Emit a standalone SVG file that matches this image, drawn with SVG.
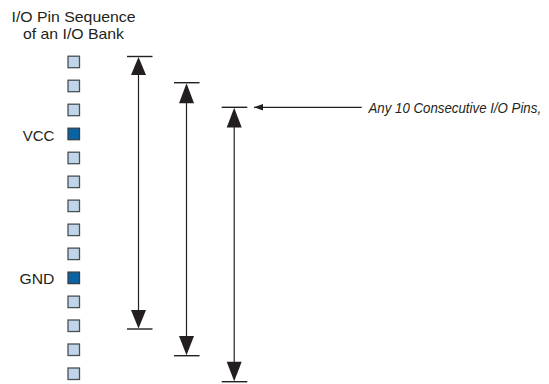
<svg xmlns="http://www.w3.org/2000/svg" width="549" height="384" viewBox="0 0 549 384">
<defs>
<style>
.pin{fill:#c0d5ea;stroke:#4a4f55;stroke-width:1.3}
.pwr{fill:#0864a4;stroke:#3a3f45;stroke-width:1.3}
.lbl{font-family:"Liberation Sans",Arial,sans-serif;font-size:14.5px;fill:#231f20}
.note{font-family:"Liberation Sans",Arial,sans-serif;font-size:15px;font-style:italic;fill:#231f20}
.ln{stroke:#231f20;stroke-width:1.2;fill:none}
.tick{stroke:#231f20;stroke-width:1.4}
.head{fill:#231f20}
</style>
<marker id="ah" markerWidth="10" markerHeight="8" refX="9" refY="4" orient="auto" markerUnits="userSpaceOnUse">
<path d="M0,0.8 L9,4 L0,7.2 Z" fill="#231f20"/>
</marker>
</defs>
<rect width="549" height="384" fill="#ffffff"/>
<g id="title">
<text class="lbl" x="73.5" y="21.7" text-anchor="middle" textLength="124" lengthAdjust="spacingAndGlyphs">I/O Pin Sequence</text>
<text class="lbl" x="73.5" y="39.3" text-anchor="middle" textLength="101" lengthAdjust="spacingAndGlyphs">of an I/O Bank</text>
</g>
<g id="pins">
<rect class="pin" x="68" y="56.2" width="11.5" height="11.5"/>
<rect class="pin" x="68" y="80.2" width="11.5" height="11.5"/>
<rect class="pin" x="68" y="104.2" width="11.5" height="11.5"/>
<g id="vcc">
<rect class="pwr" x="68" y="128.2" width="11.5" height="11.5"/>
<text class="lbl" x="22.7" y="140.7" textLength="31.6" lengthAdjust="spacingAndGlyphs">VCC</text>
</g>
<rect class="pin" x="68" y="152.2" width="11.5" height="11.5"/>
<rect class="pin" x="68" y="176.1" width="11.5" height="11.5"/>
<rect class="pin" x="68" y="200.1" width="11.5" height="11.5"/>
<rect class="pin" x="68" y="224.1" width="11.5" height="11.5"/>
<rect class="pin" x="68" y="248.1" width="11.5" height="11.5"/>
<g id="gnd">
<rect class="pwr" x="68" y="272.1" width="11.5" height="11.5"/>
<text class="lbl" x="19.5" y="284" textLength="35" lengthAdjust="spacingAndGlyphs">GND</text>
</g>
<rect class="pin" x="68" y="296.1" width="11.5" height="11.5"/>
<rect class="pin" x="68" y="320.0" width="11.5" height="11.5"/>
<rect class="pin" x="68" y="344.0" width="11.5" height="11.5"/>
<rect class="pin" x="68" y="368.0" width="11.5" height="11.5"/>
</g>
<g id="connectors">
<g id="span1">
<line class="tick" x1="127" y1="56.5" x2="152.5" y2="56.5"/>
<line class="tick" x1="127" y1="329" x2="152.5" y2="329"/>
<line class="ln" x1="138.5" y1="74" x2="138.5" y2="311"/>
<path class="head" d="M138.5,57 L146,75 L131,75 Z"/>
<path class="head" d="M138.5,328.5 L146,310 L131,310 Z"/>
</g>
<g id="span2">
<line class="tick" x1="174" y1="82.7" x2="199.5" y2="82.7"/>
<line class="tick" x1="174" y1="355.7" x2="199.5" y2="355.7"/>
<line class="ln" x1="186.5" y1="100" x2="186.5" y2="337"/>
<path class="head" d="M186.5,83.2 L194,103.3 L179,103.3 Z"/>
<path class="head" d="M186.5,355.2 L194,336 L179,336 Z"/>
</g>
<g id="span3">
<line class="tick" x1="221.7" y1="107.3" x2="247.3" y2="107.3"/>
<line class="tick" x1="221.7" y1="381.7" x2="247.3" y2="381.7"/>
<line class="ln" x1="234.2" y1="125" x2="234.2" y2="363"/>
<path class="head" d="M234.2,107.8 L241.7,127.5 L226.7,127.5 Z"/>
<path class="head" d="M234.2,381.2 L241.7,361.7 L226.7,361.7 Z"/>
</g>
<line class="ln" x1="361.7" y1="107.3" x2="254" y2="107.3" marker-end="url(#ah)"/>
</g>
<g id="note" transform="translate(368.5,112.7) scale(0.885,1)">
<text class="note" x="0" y="0">Any 10 Consecutive I/O Pins,</text>
</g>
</svg>
